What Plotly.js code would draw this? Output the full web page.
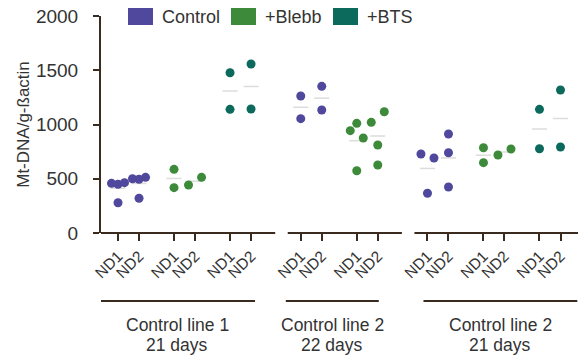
<!DOCTYPE html>
<html>
<head>
<meta charset="utf-8">
<script src="https://cdn.plot.ly/plotly-3.0.1.min.js"></script>
<style>html,body{margin:0;padding:0;background:#fff;}#chart{width:582px;height:360px;}</style>
</head>
<body>
<div id="chart"></div>
<script>
// ---- DATA ----
const seriesNames = ["Control", "+Blebb", "+BTS"];
const ndLabels = ["ND1", "ND2"];
const lineLabels = ["Control line 1", "Control line 2", "Control line 2"];
const lineDurations = ["21 days", "22 days", "21 days"];
// values per cell line -> [ND1 values, ND2 values]
const controlValues = [[[458, 449, 464, 279], [500, 495, 513, 320]], [[1263, 1054], [1352, 1134]], [[728, 691, 366], [912, 740, 424]]];
const blebbValues = [[[587, 418], [442, 513]], [[943, 1011, 876, 574], [1020, 1118, 811, 627]], [[786, 648], [719, 774]]];
const btsValues = [[[1477, 1140], [1558, 1143]], null, [[1140, 777], [1318, 793]]];
const yTicks = [0, 500, 1000, 1500, 2000];

// ---- STYLE / LAYOUT ----
const seriesData = [controlValues, blebbValues, btsValues];
const seriesColors = ["#4f489c", "#3d8b3a", "#0b6a5c"];
const axisColor = "#3b2a1e";
const textColor = "#333333";
const FONT = "Liberation Sans, Arial, sans-serif";
const W = 582, H = 360;
const M = {l: 101, r: 4, t: 16, b: 127};
const STEP = 8 / 3, LINE_EXTRA = 0.7, DOT_OFF = 0.31, CLUSTER = 115, MEAN_HALF = 0.36;
const xRange = [-0.81, 21.9];
const bracketPad = [[-0.86, 0.19], [-0.71, 0.05], [-0.19, 0.8]];
const legendX = [128, 231, 333];

const pw = W - M.l - M.r, ph = H - M.t - M.b;
const pxX = px => (px - M.l) / pw;
const pxY = py => (H - M.b - py) / ph;

function swarm(vals) {
  const idx = vals.map((v, i) => i).sort((a, b) => vals[a] - vals[b]);
  const off = new Array(vals.length).fill(0);
  let cl = [idx[0]];
  const flush = c => {
    c.sort((a, b) => a - b);
    const n = c.length;
    c.forEach((k, i) => {
      off[k] = n === 1 ? 0 : (n === 2 ? (i === 0 ? -DOT_OFF : DOT_OFF) : (i - (n - 1) / 2) * DOT_OFF);
    });
  };
  for (let j = 1; j < idx.length; j++) {
    if (vals[idx[j]] - vals[idx[j - 1]] < CLUSTER) cl.push(idx[j]);
    else { flush(cl); cl = [idx[j]]; }
  }
  flush(cl);
  return off;
}

const pts = seriesNames.map(() => ({x: [], y: []}));
const meanX = [], meanY = [];
const tickVals = [], tickText = [];
const lineInfo = [];
let start = 0;
for (let l = 0; l < lineLabels.length; l++) {
  const groups = [];
  seriesData.forEach((s, si) => { if (s[l]) groups.push(si); });
  groups.forEach((si, g) => {
    seriesData[si][l].forEach((vals, nd) => {
      const p = start + g * STEP + nd;
      tickVals.push(p); tickText.push(ndLabels[nd]);
      const off = swarm(vals);
      vals.forEach((v, i) => { pts[si].x.push(p + off[i]); pts[si].y.push(v); });
      const m = vals.reduce((a, b) => a + b, 0) / vals.length;
      meanX.push(p - MEAN_HALF, p + MEAN_HALF, null); meanY.push(m, m, null);
    });
  });
  lineInfo.push({first: start, last: start + (groups.length - 1) * STEP + 1});
  start += groups.length * STEP + LINE_EXTRA;
}

const traces = [{
  type: "scatter", mode: "lines", x: meanX, y: meanY,
  line: {color: "#dcdcdc", width: 1.5}, hoverinfo: "skip", showlegend: false
}];
seriesNames.forEach((n, si) => traces.push({
  type: "scatter", mode: "markers", name: n, x: pts[si].x, y: pts[si].y,
  marker: {color: seriesColors[si], size: 9, line: {width: 0}}, showlegend: false, cliponaxis: false
}));

const shapes = [], annotations = [];
lineInfo.forEach((li, l) => {
  const x0 = l === 0 ? xRange[0] : li.first - 0.62;
  const x1 = l === lineInfo.length - 1 ? xRange[1] : li.last + 1.15;
  shapes.push({type: "line", xref: "x", yref: "paper", x0: x0, x1: x1, y0: 0, y1: 0, line: {color: axisColor, width: 2}});
  const b0 = li.first + bracketPad[l][0], b1 = li.last + bracketPad[l][1];
  shapes.push({type: "line", xref: "x", yref: "paper", x0: b0, x1: b1, y0: pxY(301), y1: pxY(301), line: {color: axisColor, width: 2}});
  const c = (b0 + b1) / 2;
  annotations.push({xref: "x", yref: "paper", x: c, y: pxY(325), text: lineLabels[l], showarrow: false, xanchor: "center", yanchor: "middle", font: {family: FONT, size: 17.5, color: textColor}});
  annotations.push({xref: "x", yref: "paper", x: c, y: pxY(345), text: lineDurations[l], showarrow: false, xanchor: "center", yanchor: "middle", font: {family: FONT, size: 17.5, color: textColor}});
});
seriesNames.forEach((n, si) => {
  shapes.push({type: "rect", xref: "paper", yref: "paper", x0: pxX(legendX[si]), x1: pxX(legendX[si] + 25), y0: pxY(25), y1: pxY(8), fillcolor: seriesColors[si], line: {width: 0}});
  annotations.push({xref: "paper", yref: "paper", x: pxX(legendX[si] + 32), y: pxY(16.5), text: n, showarrow: false, xanchor: "left", yanchor: "middle", font: {family: FONT, size: 18, color: textColor}});
});

const layout = {
  width: W, height: H, margin: M, paper_bgcolor: "#fff", plot_bgcolor: "#fff",
  showlegend: false, font: {family: FONT, color: textColor},
  xaxis: {range: xRange, tickvals: tickVals, ticktext: tickText, tickangle: -45, ticks: "outside", ticklen: 7, tickwidth: 2, tickcolor: axisColor,
    showline: false, showgrid: false, zeroline: false, tickfont: {family: FONT, size: 15.5, color: textColor}, automargin: false, fixedrange: true},
  yaxis: {range: [0, 2000], tickvals: yTicks, ticks: "outside", ticklen: 6, tickwidth: 2, tickcolor: axisColor, showline: true, linecolor: axisColor, linewidth: 2,
    showgrid: false, zeroline: false, tickfont: {family: FONT, size: 19, color: textColor}, ticklabelstandoff: 11, automargin: false,
    title: {text: "Mt-DNA/g-ßactin", font: {family: FONT, size: 17, color: textColor}, standoff: 2}},
  shapes: shapes, annotations: annotations
};
Plotly.newPlot("chart", traces, layout, {staticPlot: true, displayModeBar: false});
</script>
</body>
</html>
